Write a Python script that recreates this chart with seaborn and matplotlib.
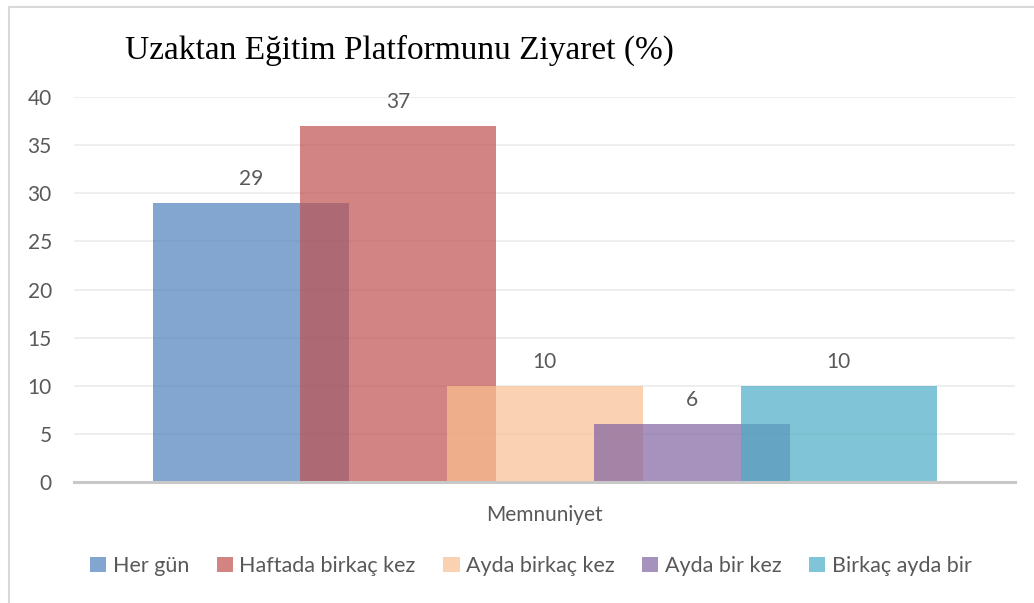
import matplotlib
matplotlib.use("Agg")
import matplotlib.pyplot as plt
import seaborn as sns
import pandas as pd
from matplotlib.lines import Line2D

series = ["Her gün", "Haftada birkaç kez", "Ayda birkaç kez", "Ayda bir kez", "Birkaç ayda bir"]
values = [29, 37, 10, 6, 10]
colors = ["#4F81BD", "#C0504D", "#FAC090", "#8064A2", "#4BACC6"]
category = "Memnuniyet"
title = "Uzaktan Eğitim Platformunu Ziyaret (%)"
yticks = [0, 5, 10, 15, 20, 25, 30, 35, 40]

sns.set_theme(style="white")
plt.rcParams["font.family"] = ["Lato", "DejaVu Sans"]

W, H = 1034, 603
fig = plt.figure(figsize=(W / 100, H / 100), dpi=100)
ax = fig.add_axes([74 / W, 1 - 482 / H, (1015 - 74) / W, (482 - 97) / H])

df = pd.DataFrame({"series": series, "value": values})
sns.barplot(data=df, x="series", y="value", hue="series", palette=colors,
            order=series, hue_order=series, width=1.336, alpha=0.7,
            dodge=False, legend=False, ax=ax, linewidth=0, saturation=1)

txt = "#595959"
for cont in ax.containers:
    ax.bar_label(cont, fmt="%g", padding=10, fontsize=15, color=txt)

ax.set_xlim(-1.205, 5.2)
ax.set_ylim(0, 40)
ax.set_yticks(yticks)
ax.set_yticklabels([str(v) for v in yticks], fontsize=15, color=txt)
ax.tick_params(axis="y", length=0, pad=16)
ax.set_xticks([])
ax.set_xlabel("")
ax.set_ylabel("")
ax.yaxis.grid(True, color="#EBEBEB", linewidth=1.2)
ax.set_axisbelow(True)
for s in ["left", "right", "top"]:
    ax.spines[s].set_visible(False)
ax.spines["bottom"].set_color("#C8C8C8")
ax.spines["bottom"].set_linewidth(2.2)

fig.text(544 / W, 1 - 515 / H, category, ha="center", va="center", fontsize=15, color=txt)
fig.text(125 / W, 1 - 59 / H, title, ha="left", va="baseline", fontsize=24,
         family="Liberation Serif", color="#000000")

handles = [plt.Rectangle((0, 0), 1, 1, color=c, alpha=0.7, linewidth=0) for c in colors]
fig.legend(handles, series, loc="center", bbox_to_anchor=(531 / W, 1 - 566 / H),
           ncol=5, frameon=False, fontsize=15.5, labelcolor=txt,
           handlelength=0.75, handleheight=0.75, handletextpad=0.3, columnspacing=1.28)

fig.add_artist(Line2D([8.5 / W, 8.5 / W], [0, 1 - 6.5 / H], transform=fig.transFigure,
                      color="#D9D9D9", linewidth=1.5))
fig.add_artist(Line2D([8.5 / W, 1], [1 - 6.5 / H, 1 - 6.5 / H], transform=fig.transFigure,
                      color="#D9D9D9", linewidth=1.5))

fig.savefig("out.png", dpi=100)
